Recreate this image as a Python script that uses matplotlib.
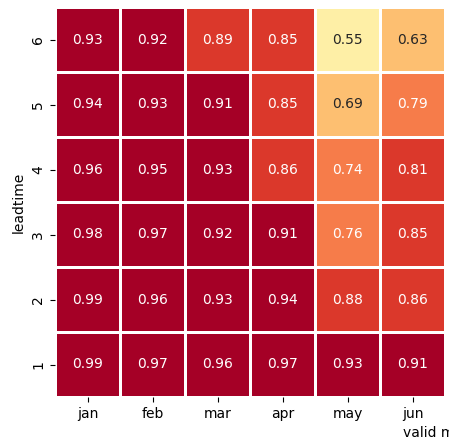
import numpy as np
import pandas as pd
import matplotlib
matplotlib.use("Agg")
import matplotlib.pyplot as plt
from matplotlib.colors import BoundaryNorm
import seaborn as sns

months = ["jan", "feb", "mar", "apr", "may", "jun"]
leadtimes = [6, 5, 4, 3, 2, 1]

# correlation per leadtime (rows, top to bottom), one value per valid month
lead6 = [0.93, 0.92, 0.89, 0.85, 0.55, 0.63]
lead5 = [0.94, 0.93, 0.91, 0.85, 0.69, 0.79]
lead4 = [0.96, 0.95, 0.93, 0.86, 0.74, 0.81]
lead3 = [0.98, 0.97, 0.92, 0.91, 0.76, 0.85]
lead2 = [0.99, 0.96, 0.93, 0.94, 0.88, 0.86]
lead1 = [0.99, 0.97, 0.96, 0.97, 0.93, 0.91]

df = pd.DataFrame([lead6, lead5, lead4, lead3, lead2, lead1],
                  index=leadtimes, columns=months)

norm = BoundaryNorm(np.arange(0, 1.01, 0.1), 256)

fig = plt.figure(figsize=(4.49, 4.47), dpi=100)
ax = fig.add_axes([55 / 449, 1 - 397 / 447, 390 / 449, 390 / 447])

sns.heatmap(df, ax=ax, cmap="RdYlBu_r", norm=norm, annot=True, fmt=".2f",
            linewidths=1, linecolor="white", cbar=False)

ax.set_yticklabels(leadtimes, rotation=90, va="center")
ax.set_ylabel("leadtime")
ax.set_xlabel("valid month", ha="left")
ax.xaxis.set_label_coords((403 - 55) / 390, -0.075)

fig.savefig("out.png", dpi=100)
